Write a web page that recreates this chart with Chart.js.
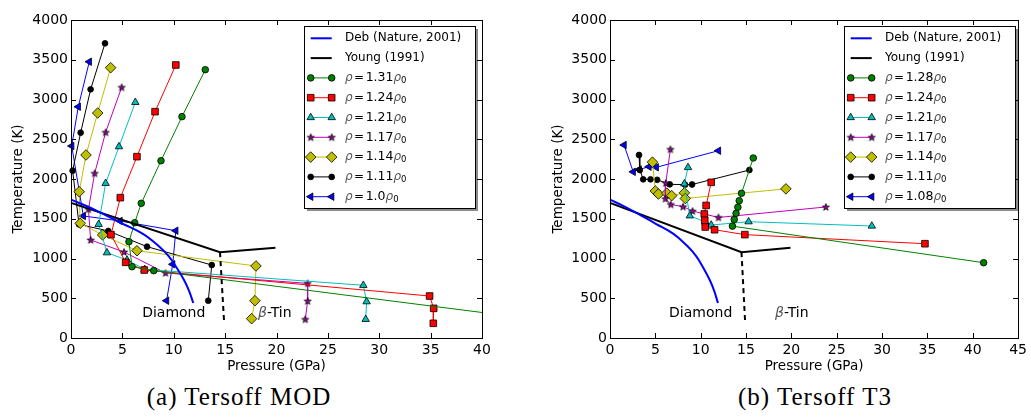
<!DOCTYPE html>
<html lang="en">
<head>
<meta charset="UTF-8">
<title>Melting curves - Tersoff MOD / T3</title>
<script src="https://cdn.jsdelivr.net/npm/chart.js@4.4.1/dist/chart.umd.min.js"></script>
<style>
    body {
        margin: 0;
        background: #fff;
        width: 1031px;
        height: 418px;
        position: relative;
        overflow: hidden;
    }
    .plot { position: absolute; top: 0; }
    #boxA { left: 0; width: 500px; height: 380px; }
    #boxB { left: 540px; width: 491px; height: 380px; }
    .caption {
        position: absolute;
        top: 383px;
        font-family: "Liberation Serif", serif;
        font-size: 25px;
        letter-spacing: 1px;
        white-space: nowrap;
        transform: translateX(-50%);
        color: #000;
    }
</style>
</head>
<body>
<div class="plot" id="boxA"><canvas id="chartA" width="500" height="380"></canvas></div>
<div class="plot" id="boxB"><canvas id="chartB" width="491" height="380"></canvas></div>
<div class="caption" style="left:239px">(a) Tersoff MOD</div>
<div class="caption" style="left:815px">(b) Tersoff T3</div>

<script>
// reference curves (same for both panels)
const debP = [0, 1.5, 3.3, 5, 7, 8.5, 9.5, 10.3, 11, 11.5, 11.9];
const debT = [1740, 1660, 1550, 1440, 1310, 1160, 1030, 880, 730, 590, 440];
const youngP = [0, 14.5, 19.9];
const youngT = [1700, 1080, 1135];
const youngDashP = [14.5, 14.9];
const youngDashT = [1080, 200];

// (a) Tersoff MOD
const modP131 = [13.07, 10.8, 8.76, 6.84, 6.2, 5.64, 5.94, 8.05, 44];
const modT131 = [3375, 2784, 2230, 1694, 1450, 1211, 897, 847, 255];
const modP124 = [10.2, 8.18, 6.42, 4.8, 3.89, 5.32, 7.13, 34.9, 35.3, 35.26];
const modT124 = [3434, 2847, 2281, 1765, 1300, 952, 855, 528, 373, 185];
const modP121 = [6.26, 4.67, 3.37, 2.69, 3.5, 5.45, 7.17, 28.45, 28.77, 28.68];
const modT121 = [2964, 2407, 1946, 1430, 1073, 981, 864, 663, 457, 235];
const modP117 = [4.93, 3.37, 2.3, 1.7, 1.91, 5.16, 9.2, 23.03, 23.03, 22.8];
const modT117 = [3153, 2587, 2071, 1619, 1233, 1082, 818, 687, 465, 235];
const modP114 = [3.86, 2.6, 1.46, 0.8, 0.9, 3.08, 6.42, 18.0, 17.9, 17.58];
const modT114 = [3400, 2830, 2302, 1840, 1443, 1296, 1098, 906, 469, 243];
const modP111 = [3.31, 1.91, 0.94, 0.16, 0.78, 3.63, 7.4, 13.7, 13.36];
const modT111 = [3707, 3128, 2583, 2105, 1430, 1346, 1149, 918, 469];
const modP100 = [1.78, 0.71, 0.07, 1.2, 4.77, 10.2, 9.9, 9.3];
const modT100 = [3475, 2909, 2415, 1535, 1472, 1350, 927, 469];

// (b) Tersoff T3
const t3P128 = [15.8, 14.5, 14.25, 14.1, 13.9, 13.7, 13.5, 41.2];
const t3T128 = [2264, 1820, 1727, 1645, 1568, 1490, 1407, 947];
const t3P124 = [11.16, 10.6, 10.4, 10.45, 10.5, 11.53, 14.87, 34.73];
const t3T124 = [1958, 1667, 1560, 1480, 1396, 1362, 1300, 1186];
const t3P121 = [8.6, 8.2, 8.8, 10.5, 11.16, 15.28, 28.87];
const t3T121 = [2145, 1940, 1537, 1460, 1421, 1463, 1409];
const t3P117 = [6.66, 6.15, 6.1, 6.7, 8.05, 9.1, 11.96, 23.8];
const t3T117 = [2373, 1950, 1752, 1680, 1652, 1597, 1516, 1648];
const t3P114 = [4.68, 5.0, 5.34, 6.26, 6.8, 8.2, 8.3, 19.4];
const t3T114 = [2212, 1849, 1811, 1822, 1790, 1826, 1755, 1876];
const t3P111 = [3.2, 3.29, 3.66, 4.47, 5.2, 6.59, 8.27, 9.05, 15.37];
const t3T111 = [2302, 2113, 1996, 1996, 1990, 1933, 1929, 1931, 2113];
const t3P108 = [1.55, 2.56, 3.22, 4.3, 5.1, 11.96];
const t3T108 = [2428, 2090, 2120, 2155, 2147, 2356];

const yTicks = [0, 500, 1000, 1500, 2000, 2500, 3000, 3500, 4000];

const FONT = '"DejaVu Sans", sans-serif';

// filled 5-point star like matplotlib '*'
function starMarker(fill) {
    const c = document.createElement('canvas');
    c.width = 10; c.height = 10;
    const g = c.getContext('2d');
    g.beginPath();
    for (let i = 0; i < 10; i++) {
        const r = i % 2 ? 1.5 : 3.7;
        const a = -Math.PI / 2 + i * Math.PI / 5;
        g.lineTo(5 + r * Math.cos(a), 5.3 + r * Math.sin(a));
    }
    g.closePath();
    g.fillStyle = fill;
    g.fill();
    g.strokeStyle = '#000';
    g.lineWidth = 0.8;
    g.stroke();
    return c;
}

const mk = {
    circle: { style: 'circle', r: 3.3 },
    square: { style: 'rect', r: 4.7 },
    tri: { style: 'triangle', r: 4.3 },
    star: { style: starMarker('#a000a0'), r: 3.5 },
    diamond: { style: 'rectRot', r: 5.3 },
    dot: { style: 'circle', r: 2.9 },
    triLeft: { style: 'triangle', r: 4.3, rot: -90 }
};

function pts(P, T) {
    return P.map((p, i) => ({ x: p, y: T[i] }));
}

function series(rho, P, T, color, m, extra) {
    return Object.assign({
        label: 'ρ=' + rho + 'ρ0',
        rho: rho,
        data: pts(P, T),
        showLine: true,
        borderColor: color,
        borderWidth: 1,
        backgroundColor: color,
        pointBackgroundColor: color,
        pointBorderColor: '#000',
        pointBorderWidth: 0.8,
        pointStyle: m.style,
        pointRadius: m.r,
        pointHoverRadius: m.r,
        pointRotation: m.rot || 0,
        clip: false
    }, extra || {});
}

function refCurves() {
    return [
        { label: 'Deb (Nature, 2001)', data: pts(debP, debT), showLine: true, borderColor: '#0000ff',
          borderWidth: 2, pointRadius: 0, tension: 0.4, clip: false },
        { label: 'Young (1991)', data: pts(youngP, youngT), showLine: true, borderColor: '#000',
          borderWidth: 2, pointRadius: 0, clip: false },
        { label: 'Young dashed', hideInLegend: true, data: pts(youngDashP, youngDashT), showLine: true,
          borderColor: '#000', borderWidth: 2, borderDash: [5, 4], pointRadius: 0, clip: false }
    ];
}

// frame, inward ticks and phase labels
const framePlugin = {
    id: 'frame',
    afterDatasetsDraw(chart) {
        const { ctx, chartArea: a } = chart;
        const xs = chart.scales.x, ys = chart.scales.y;
        ctx.save();
        ctx.strokeStyle = '#000';
        ctx.lineWidth = 1;
        ctx.beginPath();
        xs.ticks.forEach(t => {
            const px = Math.round(xs.getPixelForValue(t.value)) + 0.5;
            ctx.moveTo(px, a.bottom); ctx.lineTo(px, a.bottom - 5);
            ctx.moveTo(px, a.top); ctx.lineTo(px, a.top + 5);
        });
        ys.ticks.forEach(t => {
            const py = Math.round(ys.getPixelForValue(t.value)) + 0.5;
            ctx.moveTo(a.left, py); ctx.lineTo(a.left + 5, py);
            ctx.moveTo(a.right, py); ctx.lineTo(a.right - 5, py);
        });
        ctx.stroke();
        ctx.strokeRect(Math.round(a.left) + 0.5, Math.round(a.top) + 0.5,
            Math.round(a.right - a.left), Math.round(a.bottom - a.top));

        // phase labels
        ctx.fillStyle = '#000';
        ctx.textBaseline = 'middle';
        ctx.font = '14px ' + FONT;
        ctx.textAlign = 'center';
        ctx.fillText('Diamond', xs.getPixelForValue(10.0), ys.getPixelForValue(315));
        ctx.textAlign = 'left';
        let bx = xs.getPixelForValue(18.2);
        const by = ys.getPixelForValue(315);
        ctx.font = 'italic 14px ' + FONT;
        ctx.fillStyle = '#555';
        ctx.fillText('β', bx, by);
        bx += ctx.measureText('β').width;
        ctx.fillStyle = '#000';
        ctx.font = '14px ' + FONT;
        ctx.fillText('-Tin', bx, by);
        ctx.restore();
    }
};

// matplotlib-like boxed legend with shadow
const legendPlugin = {
    id: 'boxLegend',
    afterDraw(chart) {
        const ctx = chart.ctx;
        const bx = 304, by = 26, bw = 171, bh = 182;
        ctx.save();
        ctx.fillStyle = 'rgba(0,0,0,0.45)';
        ctx.fillRect(bx + 3, by + 3, bw, bh);
        ctx.fillStyle = '#fff';
        ctx.fillRect(bx, by, bw, bh);
        ctx.strokeStyle = '#000';
        ctx.lineWidth = 1;
        ctx.strokeRect(bx + 0.5, by + 0.5, bw, bh);

        const x0 = 310.7, x1 = 331.7, tx = 345;
        let row = 0;
        chart.data.datasets.forEach(ds => {
            if (ds.hideInLegend) return;
            const y = 38.3 + row * 19.8;
            row++;
            ctx.strokeStyle = ds.borderColor;
            ctx.lineWidth = ds.borderWidth;
            ctx.setLineDash([]);
            ctx.beginPath();
            ctx.moveTo(x0, y); ctx.lineTo(x1, y);
            ctx.stroke();
            if (ds.pointRadius > 0) {
                [x0, x1].forEach(px => {
                    ctx.fillStyle = ds.pointBackgroundColor;
                    ctx.strokeStyle = '#000';
                    ctx.lineWidth = ds.pointBorderWidth;
                    Chart.helpers.drawPoint(ctx, {
                        pointStyle: ds.pointStyle, rotation: ds.pointRotation,
                        radius: ds.pointRadius, borderWidth: ds.pointBorderWidth
                    }, px, y);
                });
            }
            ctx.fillStyle = '#000';
            ctx.textBaseline = 'middle';
            ctx.textAlign = 'left';
            if (ds.rho) {
                let x = tx;
                const part = (txt, font, dy, color) => {
                    ctx.font = font;
                    ctx.fillStyle = color || '#000';
                    ctx.fillText(txt, x, y + (dy || 0));
                    x += ctx.measureText(txt).width;
                };
                part('ρ', 'italic 12px ' + FONT, 0, '#555');
                x += 1.5;
                part('=', '12px ' + FONT);
                x += 1.5;
                part(ds.rho, '12.5px ' + FONT);
                part('ρ', 'italic 12px ' + FONT, 0, '#555');
                part('0', '8.5px ' + FONT, 3);
            } else {
                ctx.font = '12px ' + FONT;
                ctx.fillText(ds.label, tx, y);
            }
        });
        ctx.restore();
    }
};

function makeChart(id, xMax, yWidth, rightPad, datasets) {
    return new Chart(document.getElementById(id), {
        type: 'scatter',
        data: { datasets: datasets },
        options: {
            responsive: false,
            animation: false,
            events: [],
            layout: { padding: { top: 20, right: rightPad, left: 0, bottom: 0 } },
            plugins: { legend: { display: false }, tooltip: { enabled: false } },
            scales: {
                x: {
                    type: 'linear', min: 0, max: xMax,
                    grid: { display: false, drawTicks: false },
                    border: { display: false },
                    ticks: { stepSize: 5, padding: 4, maxRotation: 0, color: '#000',
                        font: { family: FONT, size: 14 }, callback: v => String(v) },
                    title: { display: true, text: 'Pressure (GPa)', color: '#000',
                        font: { family: FONT, size: 13.5 }, padding: { top: 0, bottom: 5 } },
                    afterFit(s) { s.height = 42; }
                },
                y: {
                    type: 'linear', min: yTicks[0], max: yTicks[yTicks.length - 1],
                    grid: { display: false, drawTicks: false },
                    border: { display: false },
                    afterBuildTicks(s) { s.ticks = yTicks.map(v => ({ value: v })); },
                    ticks: { padding: 3, color: '#000', font: { family: FONT, size: 14 },
                        callback: v => String(v) },
                    title: { display: true, text: 'Temperature (K)', color: '#000',
                        font: { family: FONT, size: 13.5 }, padding: { top: 10, bottom: 0 } },
                    afterFit(s) { s.width = yWidth; }
                }
            }
        },
        plugins: [framePlugin, legendPlugin]
    });
}

makeChart('chartA', 40, 71, 18, refCurves().concat([
    series('1.31', modP131, modT131, '#008000', mk.circle,
        { clip: { left: false, top: false, right: 0, bottom: false } }),
    series('1.24', modP124, modT124, '#ff0000', mk.square),
    series('1.21', modP121, modT121, '#00bfbf', mk.tri),
    series('1.17', modP117, modT117, '#bf00bf', mk.star),
    series('1.14', modP114, modT114, '#bfbf00', mk.diamond),
    series('1.11', modP111, modT111, '#000000', mk.dot),
    series('1.0', modP100, modT100, '#0000ff', mk.triLeft)
]));

makeChart('chartB', 45, 70, 11, refCurves().concat([
    series('1.28', t3P128, t3T128, '#008000', mk.circle),
    series('1.24', t3P124, t3T124, '#ff0000', mk.square),
    series('1.21', t3P121, t3T121, '#00bfbf', mk.tri),
    series('1.17', t3P117, t3T117, '#bf00bf', mk.star),
    series('1.14', t3P114, t3T114, '#bfbf00', mk.diamond),
    series('1.11', t3P111, t3T111, '#000000', mk.dot),
    series('1.08', t3P108, t3T108, '#0000ff', mk.triLeft)
]));
</script>
</body>
</html>
